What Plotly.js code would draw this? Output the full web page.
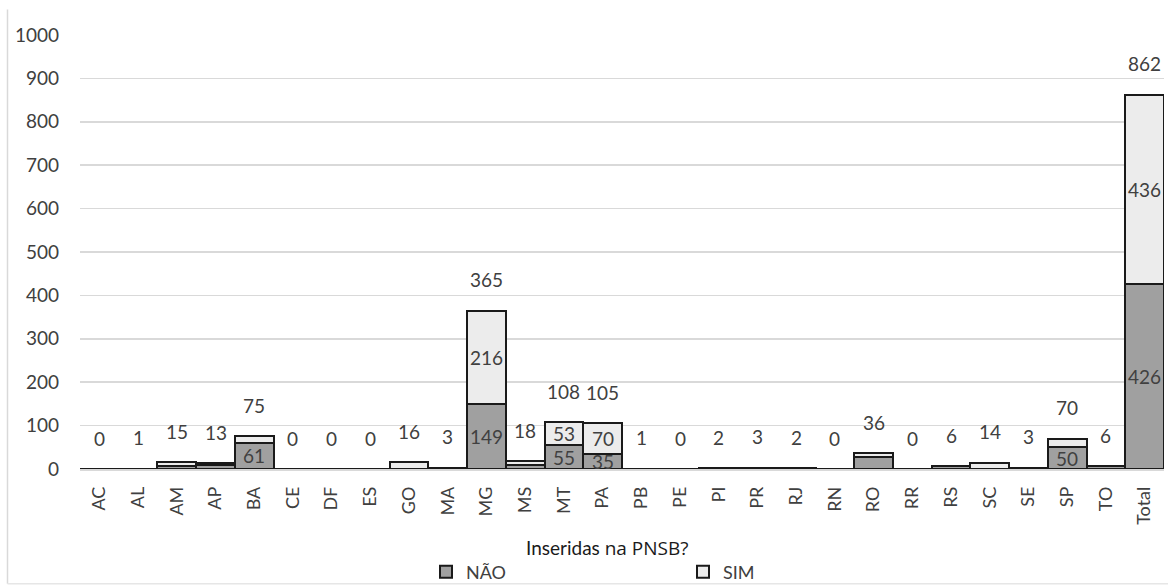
<!DOCTYPE html>
<html>
<head>
<meta charset="utf-8">
<script src="https://cdn.plot.ly/plotly-3.0.1.min.js"></script>
<style>
html,body{margin:0;padding:0;background:#fff;}
#chart{width:1168px;height:587px;}
</style>
</head>
<body>
<div id="chart"></div>
<script>
const categories = ["AC","AL","AM","AP","BA","CE","DF","ES","GO","MA","MG","MS","MT","PA","PB","PE","PI","PR","RJ","RN","RO","RR","RS","SC","SE","SP","TO","Total"];
const nao = [0,1,8,10,61,0,0,0,0,3,149,10,55,35,1,0,0,0,0,0,28,0,6,0,3,50,6,426];
const sim = [0,0,7,3,14,0,0,0,16,0,216,8,53,70,0,0,2,3,2,0,8,0,0,14,0,20,0,436];
const totals = [0,1,15,13,75,0,0,0,16,3,365,18,108,105,1,0,2,3,2,0,36,0,6,14,3,70,6,862];
const yTicks = [0,100,200,300,400,500,600,700,800,900,1000];
const seriesNames = ["NÃO","SIM"];
const axisTitle = "Inseridas <span style='font-family:\"Open Sans\";font-size:19px'>na PNSB?</span>";

const FONT = "Lato, 'Open Sans', sans-serif";
const TXT = "#404040";
const labelMin = 30;

const data = [
  {type: "bar", x: categories, y: nao, name: seriesNames[0], hoverinfo: "x+y+name",
   marker: {color: "#a0a0a0", line: {color: "#1a1a1a", width: 2}}},
  {type: "bar", x: categories, y: sim, name: seriesNames[1], hoverinfo: "x+y+name",
   marker: {color: "#ececec", line: {color: "#1a1a1a", width: 2}}}
];

const L = 80, R = 4, T = 34.5, B = 118;
const plotH = 587 - T - B;
const plotW = 1168 - L - R;
function py(pix){ return (587 - B - pix) / plotH; }
function px(pix){ return (pix - L) / plotW; }

const lbl = {family: FONT, size: 19, color: TXT};
const annotations = [];
categories.forEach((c, i) => {
  annotations.push({x: c, y: totals[i], xref: "x", yref: "y", text: String(totals[i]),
    showarrow: false, yshift: 31, yanchor: "middle", font: lbl});
  if (nao[i] >= labelMin) annotations.push({x: c, y: nao[i] / 2, xref: "x", yref: "y",
    text: String(nao[i]), showarrow: false, yanchor: "middle", font: lbl});
  if (sim[i] >= labelMin) annotations.push({x: c, y: nao[i] + sim[i] / 2, xref: "x", yref: "y",
    text: String(sim[i]), showarrow: false, yanchor: "middle", font: lbl});
});
annotations.push({
  x: px(607), y: py(548), xref: "paper", yref: "paper",
  text: axisTitle, showarrow: false, xanchor: "center", yanchor: "middle",
  font: {family: FONT, size: 19, color: "#1a1a1a"}
});

const layout = {
  width: 1168, height: 587,
  margin: {l: L, r: R, t: T, b: B, pad: 0},
  paper_bgcolor: "#ffffff", plot_bgcolor: "#ffffff",
  barmode: "stack", bargap: 0,
  showlegend: true,
  legend: {
    orientation: "h", xref: "container", yref: "container",
    x: 426 / 1168, y: (587 - 572) / 587, xanchor: "left", yanchor: "middle",
    entrywidth: 212, entrywidthmode: "pixels", itemwidth: 30,
    font: {family: FONT, size: 18, color: TXT}, bgcolor: "rgba(0,0,0,0)",
    traceorder: "normal"
  },
  xaxis: {
    type: "category", categoryorder: "array", categoryarray: categories,
    tickangle: -90, ticks: "", ticklabelstandoff: 9,
    tickfont: {family: FONT, size: 18, color: TXT},
    showgrid: false, showline: true, linecolor: "#d9d9d9", linewidth: 1.5,
    zeroline: false, fixedrange: true, automargin: false
  },
  yaxis: {
    range: [0, 1000], tickvals: yTicks, ticktext: yTicks.map(String),
    ticks: "", ticklabelstandoff: 20,
    tickfont: {family: FONT, size: 19, color: TXT},
    showgrid: true, gridcolor: "#d9d9d9", gridwidth: 1.5,
    zeroline: false, showline: false, fixedrange: true, automargin: false
  },
  annotations: annotations,
  shapes: [
    {type: "line", xref: "paper", yref: "paper", x0: px(7.5), x1: px(7.5), y0: py(9), y1: py(584),
     line: {color: "#d9d9d9", width: 1.5}},
    {type: "line", xref: "paper", yref: "paper", x0: px(7.5), x1: px(1168), y0: py(584), y1: py(584),
     line: {color: "#e6e6e6", width: 1.5}}
  ]
};

Plotly.newPlot("chart", data, layout, {displayModeBar: false, staticPlot: true});
</script>
</body>
</html>
